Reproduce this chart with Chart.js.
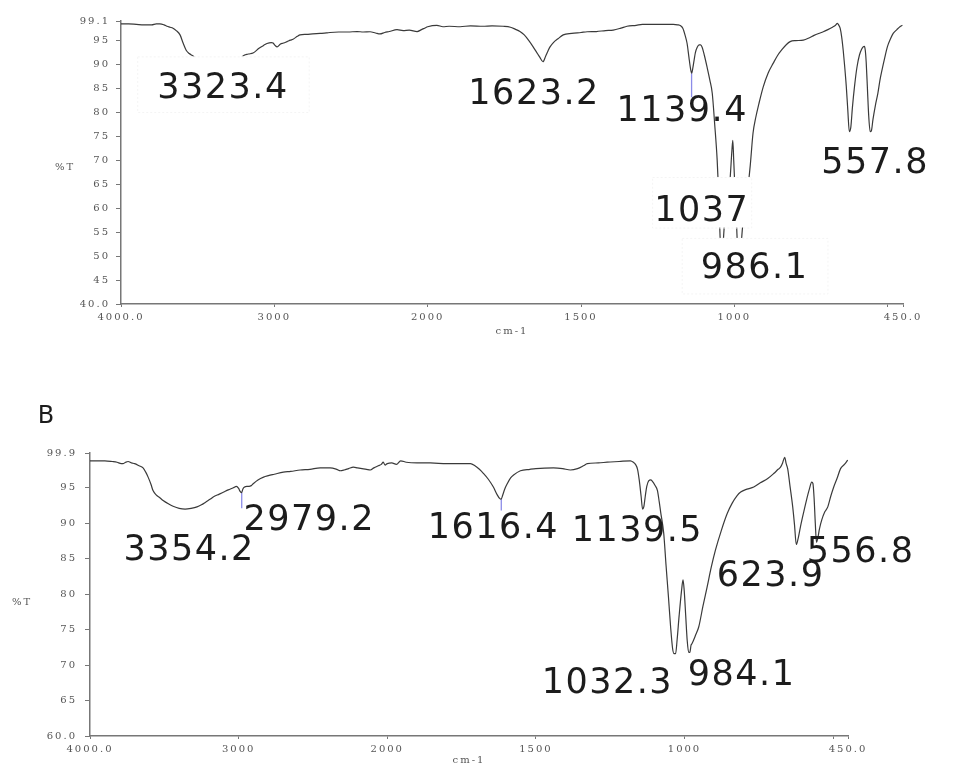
<!DOCTYPE html>
<html>
<head>
<meta charset="utf-8">
<script src="https://cdn.jsdelivr.net/npm/chart.js@4.4.0/dist/chart.umd.min.js"></script>
<style>
  html, body { margin: 0; padding: 0; background: #ffffff; }
  #wrap { position: relative; width: 976px; height: 769px; overflow: hidden; }
  .box { position: absolute; left: 0; width: 976px; }
</style>
</head>
<body>
<div id="wrap">
  <div class="box" style="top:0;height:345px"><canvas id="chartA"></canvas></div>
  <div class="box" style="top:380px;height:389px"><canvas id="chartB"></canvas></div>
</div>
<script>
// ---------------- DATA ----------------
// Panel A spectrum (wavenumber cm-1, %T)
const aWavenumber = [4000,3950,3900,3850,3800,3770,3746,3720,3700,3680,3661,3640,3615,3595,3575,3555,3530,3480,3420,3360,3323,3280,3240,3204,3170,3139,3100,3070,3048,3020,3008,2995,2982,2960,2940,2917,2895,2878,2850,2832,2790,2750,2702,2660,2637,2580,2520,2460,2420,2376,2340,2311,2280,2250,2200,2160,2120,2069,2040,2020,2000,1970,1950,1930,1894,1860,1820,1790,1754,1730,1715,1699,1685,1670,1656,1645,1635,1624,1615,1608,1601,1590,1575,1558,1530,1500,1480,1450,1420,1395,1370,1350,1320,1300,1250,1199,1185,1175,1168,1160,1154,1148,1143,1139,1135,1131,1127,1121,1115,1110,1105,1098,1089,1080,1072,1064,1056,1051,1047,1043,1039,1036,1030,1022,1014,1008,1005,1002,998,993,989,985,981,977,972,966,958,948,939,930,920,906,890,873,860,845,830,818,800,775,755,740,725,710,695,680,670,664,660,655,650,645,640,635,630,625,620,615,608,600,592,585,580,576,573,570,566,562,557,553,548,540,532,525,518,510,501,490,482,470,460,452];
const aTransmittance = [98.5,98.5,98.4,98.3,98.3,98.5,98.5,98.3,98.0,97.8,97.6,97.1,96.2,94.5,93.0,92.3,91.8,90.4,89.2,88.6,88.4,88.8,90.0,91.8,92.2,92.4,93.4,94.0,94.4,94.6,94.5,94.0,93.7,94.3,94.5,94.8,95.1,95.3,95.9,96.2,96.3,96.4,96.5,96.6,96.7,96.8,96.8,96.9,96.8,96.85,96.6,96.4,96.7,96.9,97.3,97.1,97.2,96.9,97.3,97.6,97.9,98.2,97.9,98.0,97.9,98.1,98.0,98.1,98.0,97.8,97.4,96.9,96.2,95.0,93.7,92.6,91.6,90.6,91.8,92.8,93.7,94.6,95.4,96.2,96.5,96.7,96.85,96.9,97.1,97.2,97.6,98.0,98.2,98.4,98.4,98.4,98.3,98.1,97.6,96.0,94.4,91.5,89.2,88.2,89.4,91.0,92.5,93.6,94.1,94.1,93.6,92.0,89.5,86.8,84.0,77.5,70.1,63.0,55.0,49.5,49.0,53.0,58.5,62.0,66.0,72.0,74.2,70.0,64.0,57.0,51.0,48.5,49.5,53.0,57.0,60.5,63.0,69.0,75.7,79.0,81.8,85.3,88.2,90.3,91.8,93.1,94.2,94.8,95.0,95.1,95.6,96.1,96.5,96.85,97.3,97.8,98.2,98.6,98.3,97.6,95.8,93.0,89.5,85.5,80.5,76.0,77.0,81.0,85.5,89.5,92.0,93.2,93.7,93.8,93.0,90.5,85.0,79.5,76.0,76.2,78.5,81.5,84.0,86.8,89.0,91.3,93.7,95.5,96.5,97.3,97.9,98.2];

// Panel B spectrum
const bWavenumber = [4000,3950,3900,3850,3818,3790,3778,3760,3744,3720,3700,3670,3643,3625,3609,3590,3576,3555,3530,3508,3470,3441,3400,3360,3320,3280,3250,3220,3190,3171,3130,3100,3070,3036,3015,3000,2990,2980,2972,2960,2945,2930,2915,2900,2870,2832,2800,2760,2699,2650,2586,2520,2451,2384,2340,2316,2290,2260,2228,2200,2170,2140,2114,2090,2060,2040,2027,2015,2000,1985,1969,1955,1936,1900,1855,1800,1760,1720,1705,1690,1676,1660,1643,1630,1622,1617,1612,1605,1596,1585,1575,1552,1520,1500,1441,1410,1384,1360,1340,1327,1290,1260,1220,1182,1172,1165,1158,1152,1146,1141,1137,1132,1127,1120,1114,1108,1100,1091,1085,1080,1070,1062,1054,1047,1040,1035,1030,1025,1018,1010,1005,1001,996,991,986,982,978,975,962,952,938,924,910,896,876,856,840,823,811,790,767,745,720,700,685,677,670,663,658,653,645,636,630,624,618,610,600,590,580,572,568,564,560,556,552,546,538,528,518,508,498,487,475,462,451];
const bTransmittance = [98.8,98.8,98.8,98.7,98.6,98.4,98.4,98.6,98.7,98.5,98.4,98.1,97.8,97.2,96.5,95.5,94.6,94.0,93.6,93.2,92.7,92.4,92.1,92.0,92.1,92.3,92.6,93.0,93.4,93.7,94.1,94.4,94.7,95.0,95.2,94.9,94.5,94.3,94.8,95.1,95.2,95.2,95.3,95.6,96.1,96.5,96.7,96.9,97.2,97.3,97.5,97.6,97.8,97.8,97.6,97.4,97.5,97.7,97.9,97.8,97.7,97.6,97.5,97.8,98.1,98.3,98.6,98.2,98.4,98.5,98.3,98.8,98.6,98.5,98.5,98.4,98.4,98.4,98.1,97.6,97.0,96.2,95.1,94.0,93.5,93.4,93.9,94.8,95.6,96.4,96.8,97.4,97.6,97.7,97.8,97.7,97.5,97.7,98.1,98.4,98.5,98.6,98.7,98.8,98.6,98.3,97.6,96.0,93.8,92.0,92.3,93.8,95.2,96.0,96.1,95.9,95.4,94.6,93.0,91.5,88.6,84.0,79.6,75.5,72.3,71.6,71.6,73.5,77.0,80.5,82.0,80.5,77.0,73.5,71.8,71.8,72.8,73.0,74.3,75.4,78.3,81.0,83.8,86.2,89.0,91.4,92.8,93.9,94.4,94.8,95.1,95.7,96.3,97.0,97.6,97.9,98.5,99.3,98.4,97.7,95.2,92.3,89.8,87.0,87.8,89.5,91.4,93.2,94.8,95.8,95.6,93.5,90.0,87.3,87.8,89.2,90.5,91.6,92.3,93.8,95.1,96.3,97.7,98.3,98.9];

// Axis ticks
const xTickValues = [4000, 3000, 2000, 1500, 1000, 500, 450];
const xTickLabels = ['4000.0', '3000', '2000', '1500', '1000', '', '450.0'];
const aYTickValues = [40, 45, 50, 55, 60, 65, 70, 75, 80, 85, 90, 95, 99.1];
const aYTickLabels = ['40.0', '45', '50', '55', '60', '65', '70', '75', '80', '85', '90', '95', '99.1'];
const bYTickValues = [60, 65, 70, 75, 80, 85, 90, 95, 99.9];
const bYTickLabels = ['60.0', '65', '70', '75', '80', '85', '90', '95', '99.9'];

// Peak labels (text, anchor wavenumber, anchor %T)
const aPeakLabels = ['3323.4', '1623.2', '1139.4', '1037', '986.1', '557.8'];
const aPeakLabelWn = [3335, 1653, 1170, 1106.5, 934, 541];
const aPeakLabelT = [85.7, 84.4, 80.8, 60.1, 48.0, 70.1];
const bPeakLabels = ['3354.2', '2979.2', '1616.4', '1139.5', '1032.3', '984.1', '623.9', '556.8'];
const bPeakLabelWn = [3333, 2525, 1643, 1158.5, 1259.4, 808, 710.5, 407.5];
const bPeakLabelT = [86.6, 90.8, 89.7, 89.3, 67.9, 69.0, 83.0, 86.3];

// Peak-pick markers (wavenumber, from %T, to %T)
const aMarkerWn = [1139.4];
const aMarkerFrom = [88.2];
const aMarkerTo = [83.2];
const bMarkerWn = [2979.2, 1616.4];
const bMarkerFrom = [94.3, 93.4];
const bMarkerTo = [92.1, 91.8];

// -------------- helpers --------------
// Spectrometer axis: 4000-2000 compressed, 2000-450 expanded x2
function toAxis(wn) { return wn >= 2000 ? 4000 - wn : 2000 + 2 * (2000 - wn); }

const SERIF = '"DejaVu Serif", "Liberation Serif", serif';
const SANS = '"DejaVu Sans", Verdana, sans-serif';

function buildPoints(wns, ts) { return wns.map((w, i) => ({ x: toAxis(w), y: ts[i] })); }

function markerDatasets(wns, from, to) {
  return wns.map((w, i) => ({
    data: [{ x: toAxis(w), y: from[i] }, { x: toAxis(w), y: to[i] }],
    borderColor: '#8c8ce8', borderWidth: 1.3, pointRadius: 0, fill: false, tension: 0
  }));
}

const textPlugin = {
  id: 'ftirText',
  beforeDraw(chart) { chart.ctx.letterSpacing = '2px'; },
  afterDatasetsDraw(chart, args, o) {
    const ctx = chart.ctx, xs = chart.scales.x, ys = chart.scales.y, ca = chart.chartArea;
    ctx.save();
    const fs = 35, capH = 0.73 * fs;
    ctx.font = fs + 'px ' + SANS;
    ctx.letterSpacing = '1.5px';
    const items = o.labels.map((t, i) => ({
      t, cx: xs.getPixelForValue(toAxis(o.wn[i])), cy: ys.getPixelForValue(o.t[i]),
      w: ctx.measureText(t).width, box: o.box[i]
    }));
    // white label backgrounds (they hide part of the trace, as in the original)
    items.forEach(it => {
      if (it.box) {
        const [px, pt, pb] = it.box;
        const x0 = it.cx - it.w / 2 - px, y0 = it.cy - capH / 2 - pt;
        const bw = it.w + 2 * px, bh = capH + pt + pb;
        ctx.fillStyle = '#ffffff';
        ctx.fillRect(x0, y0, bw, bh);
        ctx.save();
        ctx.strokeStyle = '#f4f4f4';
        ctx.lineWidth = 1;
        ctx.setLineDash([2, 2]);
        ctx.strokeRect(x0 + 0.5, y0 + 0.5, bw, bh);
        ctx.restore();
      }
    });
    ctx.fillStyle = '#1c1c1c';
    ctx.textAlign = 'center';
    ctx.textBaseline = 'alphabetic';
    items.forEach(it => ctx.fillText(it.t, it.cx, it.cy + capH / 2));

    // axis titles
    ctx.font = '10px ' + SERIF;
    ctx.letterSpacing = '2px';
    ctx.fillStyle = '#555555';
    ctx.textBaseline = 'middle';
    ctx.fillText('%T', ca.left - o.yTitleDx, (ca.top + ca.bottom) / 2 + o.yTitleDy);
    ctx.fillText('cm-1', (ca.left + ca.right) / 2, ca.bottom + o.xTitleDy);

    if (o.panel) {
      ctx.font = '24px ' + SANS;
      ctx.letterSpacing = '0px';
      ctx.fillStyle = '#1c1c1c';
      ctx.fillText(o.panel, ca.left - 44, ca.top - 36);
    }
    ctx.restore();
  }
};

function makeChart(id, cfg) {
  const tickFont = { family: SERIF, size: 10 };
  return new Chart(document.getElementById(id), {
    type: 'line',
    data: {
      datasets: [{
        data: buildPoints(cfg.wn, cfg.t),
        borderColor: '#3a3a3a', borderWidth: 1.2, pointRadius: 0, fill: false,
        cubicInterpolationMode: 'monotone'
      }].concat(markerDatasets(cfg.mWn, cfg.mFrom, cfg.mTo))
    },
    options: {
      responsive: true, maintainAspectRatio: false, animation: false, devicePixelRatio: 1,
      layout: { padding: cfg.padding },
      plugins: {
        legend: { display: false }, tooltip: { enabled: false },
        ftirText: cfg.text
      },
      scales: {
        x: {
          type: 'linear', min: 0, max: toAxis(450),
          afterBuildTicks: s => { s.ticks = xTickValues.map(v => ({ value: toAxis(v) })); },
          afterFit: s => { s.height = cfg.xHeight; },
          ticks: { autoSkip: false, maxRotation: 0, padding: 4, color: '#555555', font: tickFont,
                   callback: (v, i) => xTickLabels[i] },
          grid: { display: true, drawOnChartArea: false, drawTicks: true, tickLength: 3, color: '#777777' },
          border: { display: true, color: '#777777', width: 1.5 }
        },
        y: {
          type: 'linear', min: cfg.yTicks[0], max: cfg.yTicks[cfg.yTicks.length - 1],
          afterBuildTicks: s => { s.ticks = cfg.yTicks.map(v => ({ value: v })); },
          afterFit: s => { s.width = cfg.yWidth; },
          ticks: { autoSkip: false, padding: cfg.yPad, color: '#555555', font: tickFont,
                   callback: (v, i) => cfg.yLabels[i] },
          grid: { display: true, drawOnChartArea: false, drawTicks: true, tickLength: 5, color: '#777777' },
          border: { display: true, color: '#777777', width: 1.5 }
        }
      }
    },
    plugins: [textPlugin]
  });
}

makeChart('chartA', {
  wn: aWavenumber, t: aTransmittance,
  mWn: aMarkerWn, mFrom: aMarkerFrom, mTo: aMarkerTo,
  yTicks: aYTickValues, yLabels: aYTickLabels,
  padding: { left: 0, right: 73, top: 21, bottom: 0 },
  xHeight: 41, yWidth: 121, yPad: 6,
  text: {
    labels: aPeakLabels, wn: aPeakLabelWn, t: aPeakLabelT,
    box: [[20, 16, 14], null, null, [2, 18, 7], [19, 15, 15], null],
    yTitleDx: 56, yTitleDy: 5, xTitleDy: 27, panel: null
  }
});

makeChart('chartB', {
  wn: bWavenumber, t: bTransmittance,
  mWn: bMarkerWn, mFrom: bMarkerFrom, mTo: bMarkerTo,
  yTicks: bYTickValues, yLabels: bYTickLabels,
  padding: { left: 0, right: 128, top: 73, bottom: 0 },
  xHeight: 33, yWidth: 90, yPad: 8,
  text: {
    labels: bPeakLabels, wn: bPeakLabelWn, t: bPeakLabelT,
    box: [null, null, null, null, null, null, null, null],
    yTitleDx: 68, yTitleDy: 8, xTitleDy: 24, panel: 'B'
  }
});
</script>
</body>
</html>
